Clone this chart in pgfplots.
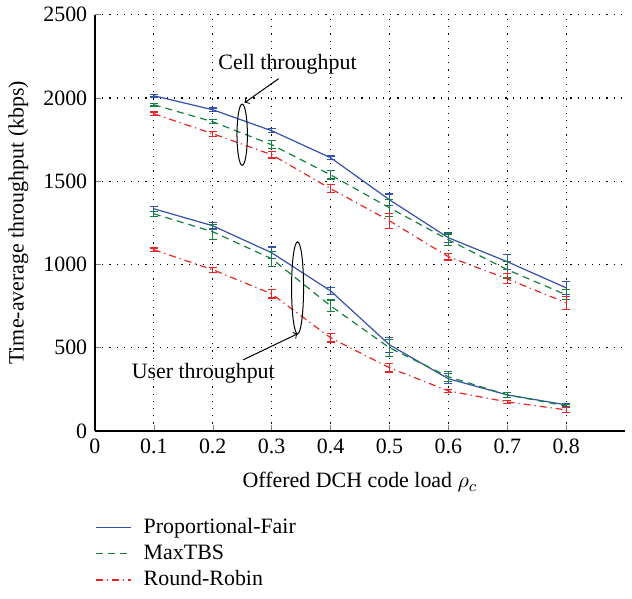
\documentclass[11pt,border=0pt]{standalone}
\usepackage{pgfplots}
\pgfplotsset{compat=1.18}
\usepackage{fontspec}
\setmainfont{Liberation Serif}
\definecolor{pfblue}{RGB}{52,82,172}
\definecolor{mtgreen}{RGB}{22,128,62}
\definecolor{rrred}{RGB}{232,36,36}
\begin{document}
\begin{tikzpicture}
\begin{axis}[
scale only axis,
width=265pt, height=208pt,
xmin=0, xmax=0.9, ymin=0, ymax=2500,
axis x line*=bottom, axis y line*=left,
axis line style={line width=0.8pt},
xtick={0,0.1,0.2,0.3,0.4,0.5,0.6,0.7,0.8},
ytick={0,500,1000,1500,2000,2500},
xticklabel style={/pgf/number format/fixed,/pgf/number format/precision=1},
/pgf/number format/1000 sep={},
/pgf/number format/assume math mode=true,
tick align=inside, major tick length=3pt,
grid=major,
major grid style={black, dash pattern=on 0.6pt off 3pt, line width=0.6pt},
xlabel={Offered DCH code load $\rho_c$},
xlabel style={yshift=-2pt},
ylabel={Time-average throughput (kbps)},
clip=false,
legend style={draw=none, fill=none, at={(rel axis cs:0,-0.19)}, anchor=north west,
  inner xsep=0pt, cells={anchor=west}, row sep=0pt},
legend image code/.code={\draw[#1] (0pt,0pt) -- (17.5pt,0pt);},
legend cell align=left,
every axis plot/.append style={line width=0.6pt},
error bars/error bar style={solid, line width=0.6pt},
error bars/error mark options={rotate=90, mark size=2pt, line width=0.6pt},
]
\addlegendimage{draw=pfblue, solid, line width=0.7pt}
\addlegendentry{\hspace{4pt}Proportional-Fair}
\addlegendimage{draw=mtgreen, dash pattern=on 3.5pt off 2.5pt, line width=0.7pt}
\addlegendentry{\hspace{4pt}MaxTBS}
\addlegendimage{draw=rrred, dash pattern=on 3.5pt off 2pt on 0.6pt off 2pt, line width=0.7pt}
\addlegendentry{\hspace{4pt}Round-Robin}
% cell throughput
\addplot [pfblue, solid, forget plot, error bars/.cd, y dir=both, y explicit] coordinates {
(0.1,2013) +- (0,8)
(0.2,1929) +- (0,10)
(0.3,1803) +- (0,12)
(0.4,1641) +- (0,10)
(0.5,1388) +- (0,35)
(0.6,1160) +- (0,30)
(0.7,1016) +- (0,45)
(0.8,859) +- (0,40)
};
\addplot [mtgreen, dash pattern=on 3.5pt off 2.5pt, forget plot, error bars/.cd, y dir=both, y explicit] coordinates {
(0.1,1959) +- (0,8)
(0.2,1857) +- (0,12)
(0.3,1719) +- (0,25)
(0.4,1538) +- (0,25)
(0.5,1340) +- (0,50)
(0.6,1148) +- (0,35)
(0.7,968) +- (0,50)
(0.8,817) +- (0,30)
};
\addplot [rrred, dash pattern=on 3.5pt off 2pt on 0.6pt off 2pt, forget plot, error bars/.cd, y dir=both, y explicit] coordinates {
(0.1,1905) +- (0,10)
(0.2,1785) +- (0,15)
(0.3,1659) +- (0,20)
(0.4,1455) +- (0,25)
(0.5,1262) +- (0,45)
(0.6,1046) +- (0,20)
(0.7,913) +- (0,30)
(0.8,769) +- (0,40)
};
% user throughput
\addplot [pfblue, solid, forget plot, error bars/.cd, y dir=both, y explicit] coordinates {
(0.1,1334) +- (0,15)
(0.2,1232) +- (0,20)
(0.3,1070) +- (0,35)
(0.4,841) +- (0,20)
(0.5,517) +- (0,45)
(0.6,313) +- (0,30)
(0.7,216) +- (0,15)
(0.8,156) +- (0,10)
};
\addplot [mtgreen, dash pattern=on 3.5pt off 2.5pt, forget plot, error bars/.cd, y dir=both, y explicit] coordinates {
(0.1,1304) +- (0,15)
(0.2,1196) +- (0,45)
(0.3,1034) +- (0,45)
(0.4,751) +- (0,35)
(0.5,499) +- (0,50)
(0.6,325) +- (0,30)
(0.7,216) +- (0,15)
(0.8,150) +- (0,10)
};
\addplot [rrred, dash pattern=on 3.5pt off 2pt on 0.6pt off 2pt, forget plot, error bars/.cd, y dir=both, y explicit] coordinates {
(0.1,1088) +- (0,10)
(0.2,968) +- (0,15)
(0.3,823) +- (0,25)
(0.4,559) +- (0,25)
(0.5,379) +- (0,25)
(0.6,240) +- (0,10)
(0.7,174) +- (0,10)
(0.8,126) +- (0,15)
};
% annotations
\draw[black, line width=0.5pt] (axis cs:0.25,1779) ellipse [x radius=2.6pt, y radius=15.3pt];
\draw[black, line width=0.5pt, ->] (axis cs:0.312,2116) -- (axis cs:0.254,1971);
\node at (axis cs:0.327,2200) {Cell throughput};
\draw[black, line width=0.5pt] (axis cs:0.344,859) ellipse [x radius=3pt, y radius=23pt];
\draw[black, line width=0.5pt, ->] (axis cs:0.252,427) -- (axis cs:0.344,583);
\node at (axis cs:0.184,343) {User throughput};
% page frame
\path (rel axis cs:-0.179,-0.404) rectangle (rel axis cs:1.013,1.029);
\end{axis}
\end{tikzpicture}
\end{document}
